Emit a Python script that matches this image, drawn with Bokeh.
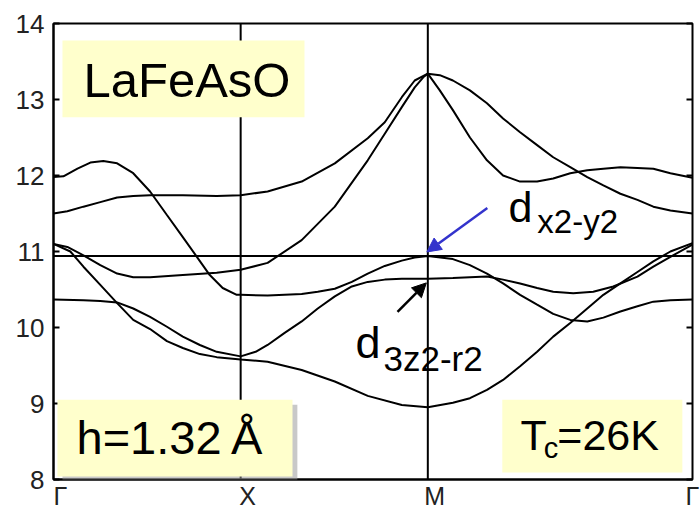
from bokeh.plotting import figure
from bokeh.models import (Range1d, Span, BoxAnnotation, Label, Arrow, NormalHead,
                          LinearAxis, FixedTicker)
from bokeh.embed import file_html
from bokeh.resources import INLINE

# High-symmetry path  Γ - X - M - Γ  (path length in units of Γ-X)
sym_k = [0.0, 1.0, 2.0, 3.4142]
sym_labels = ["Γ", "X", "M", "Γ"]
energy_ticks = [8, 9, 10, 11, 12, 13, 14]
fermi_level = 10.94

# Fe-3d derived bands of LaFeAsO (energy, eV)
band1_k = [0.000, 0.053, 0.128, 0.197, 0.266, 0.340, 0.426, 0.516, 0.606, 0.691, 0.766, 0.835, 0.904, 0.979, 1.000,
           1.144, 1.326, 1.412, 1.503, 1.594, 1.679, 1.770, 1.861, 1.930, 2.000,
           2.134, 2.225, 2.316, 2.402, 2.493, 2.584, 2.670, 2.761, 2.852, 2.938, 3.029, 3.120, 3.205, 3.296, 3.414]
band1_e = [11.98, 11.99, 12.09, 12.17, 12.19, 12.16, 12.03, 11.79, 11.48, 11.19, 10.93, 10.69, 10.52, 10.43, 10.43,
           10.42, 10.44, 10.47, 10.51, 10.60, 10.71, 10.81, 10.88, 10.92, 10.94,
           10.90, 10.82, 10.71, 10.58, 10.43, 10.30, 10.18, 10.10, 10.08, 10.13, 10.21, 10.28, 10.34, 10.36, 10.37]

band2_k = [0.000, 0.074, 0.160, 0.250, 0.340, 0.426, 0.516, 0.691, 0.872, 1.000,
           1.144, 1.326, 1.503, 1.679, 1.770, 1.861, 1.930, 2.000,
           2.064, 2.134, 2.225, 2.316, 2.402, 2.493, 2.584, 2.670, 2.761, 2.852, 2.938, 3.029, 3.120, 3.205, 3.296, 3.414]
band2_e = [11.50, 11.53, 11.59, 11.65, 11.71, 11.73, 11.74, 11.74, 11.73, 11.74,
           11.79, 11.92, 12.16, 12.49, 12.70, 13.03, 13.25, 13.34,
           13.32, 13.25, 13.12, 12.95, 12.75, 12.57, 12.40, 12.24, 12.11, 11.98, 11.87, 11.76, 11.68, 11.59, 11.54, 11.50]

band3_k = [0.000, 0.074, 0.160, 0.250, 0.340, 0.426, 0.516, 0.691, 0.872, 1.000,
           1.144, 1.326, 1.503, 1.679, 1.770, 1.861, 1.930, 1.979, 2.000,
           2.064, 2.134, 2.225, 2.316, 2.402, 2.493, 2.584, 2.670, 2.761, 2.852, 2.938, 3.029, 3.120, 3.205, 3.296, 3.414]
band3_e = [11.10, 11.06, 10.95, 10.82, 10.71, 10.66, 10.66, 10.69, 10.72, 10.76,
           10.85, 11.15, 11.59, 12.20, 12.55, 12.90, 13.16, 13.30, 13.34,
           13.12, 12.86, 12.50, 12.20, 12.00, 11.92, 11.92, 11.96, 12.03, 12.07, 12.09, 12.11, 12.10, 12.09, 12.03, 11.97]

band4_k = [0.000, 0.090, 0.160, 0.250, 0.340, 0.426, 0.516, 0.606, 0.691, 0.782, 0.872, 1.000,
           1.144, 1.326, 1.503, 1.679, 1.861, 2.000,
           2.134, 2.225, 2.316, 2.402, 2.493, 2.584, 2.670, 2.761, 2.852, 2.938, 3.029, 3.120, 3.205, 3.296, 3.414]
band4_e = [11.10, 11.00, 10.80, 10.56, 10.32, 10.10, 9.98, 9.82, 9.73, 9.65, 9.61, 9.58,
           9.55, 9.44, 9.29, 9.10, 8.98, 8.95,
           9.01, 9.07, 9.18, 9.31, 9.49, 9.68, 9.88, 10.06, 10.25, 10.43, 10.58, 10.73, 10.87, 11.00, 11.11]

band5_k = [0.000, 0.160, 0.250, 0.340, 0.426, 0.516, 0.606, 0.691, 0.782, 0.872, 1.000,
           1.080, 1.144, 1.235, 1.326, 1.412, 1.503, 1.594, 1.679, 1.770, 1.861, 2.000,
           2.134, 2.316, 2.402, 2.493, 2.584, 2.670, 2.777, 2.884, 2.991, 3.120, 3.205, 3.296, 3.414]
band5_e = [10.37, 10.36, 10.35, 10.33, 10.25, 10.14, 10.01, 9.88, 9.77, 9.68, 9.62,
           9.68, 9.77, 9.93, 10.08, 10.25, 10.41, 10.54, 10.60, 10.63, 10.64, 10.64,
           10.65, 10.67, 10.63, 10.58, 10.52, 10.47, 10.45, 10.47, 10.54, 10.67, 10.80, 10.93, 11.09]

bands = [(band1_k, band1_e), (band2_k, band2_e), (band3_k, band3_e),
         (band4_k, band4_e), (band5_k, band5_e)]

FONT = "Liberation Sans"

p = figure(width=700, height=512, x_range=Range1d(sym_k[0], sym_k[-1]), y_range=Range1d(8, 14),
           output_backend="svg", toolbar_location=None,
           min_border_left=53, min_border_right=8, min_border_top=23, min_border_bottom=32)
p.background_fill_color = "white"
p.border_fill_color = "white"
p.outline_line_color = "black"
p.outline_line_width = 2
p.xgrid.visible = False
p.ygrid.visible = False

# bottom axis: high-symmetry point names (nudged slightly right of each point,
# the last one stays on the frame edge)
label_shift = 0.037
name_ticks = [k + label_shift for k in sym_k[:-1]] + [sym_k[-1]]
p.xaxis.ticker = FixedTicker(ticks=name_ticks)
p.xaxis.major_label_overrides = {t: lab for t, lab in zip(name_ticks, sym_labels)}
p.xaxis.major_tick_in = 0
p.xaxis.major_tick_out = 0
p.xaxis.minor_tick_line_color = None
p.xaxis.axis_line_color = "black"
p.xaxis.axis_line_width = 2
p.xaxis.major_label_text_font = FONT
p.xaxis.major_label_text_font_size = "25px"
p.xaxis.major_label_text_color = "#222222"
p.xaxis.major_label_standoff = 2

# left axis: energy
p.yaxis.ticker = FixedTicker(ticks=energy_ticks)
p.yaxis.major_tick_in = 6
p.yaxis.major_tick_out = 0
p.yaxis.major_tick_line_width = 2
p.yaxis.minor_tick_line_color = None
p.yaxis.axis_line_color = "black"
p.yaxis.axis_line_width = 2
p.yaxis.major_label_text_font = FONT
p.yaxis.major_label_text_font_size = "26px"
p.yaxis.major_label_text_color = "#222222"
p.yaxis.major_label_standoff = 9

# right axis: tick marks only
right_axis = LinearAxis(ticker=FixedTicker(ticks=energy_ticks),
                        major_label_overrides={t: "" for t in energy_ticks},
                        major_tick_in=6, major_tick_out=0, major_tick_line_width=2,
                        minor_tick_line_color=None, axis_line_color=None,
                        major_label_standoff=0, major_label_text_font_size="1px")
p.add_layout(right_axis, "right")

# band lines
for bk, be in bands:
    p.line(bk, be, line_color="black", line_width=2)

# high-symmetry verticals and Fermi level
for k in sym_k[1:3]:
    p.add_layout(Span(location=k, dimension="height", line_color="black", line_width=2))
p.add_layout(Span(location=fermi_level, dimension="width", line_color="black", line_width=2))

# inset boxes
box_fill = "#FFFFCC"
p.add_layout(BoxAnnotation(left=0.048, right=1.341, top=13.777, bottom=12.766,
                           fill_color=box_fill, fill_alpha=1, line_color=None))
p.add_layout(BoxAnnotation(left=0.048, right=1.303, top=8.985, bottom=7.975,
                           fill_color="#9a9a9a", fill_alpha=0.55, line_color=None))
p.add_layout(BoxAnnotation(left=0.021, right=1.277, top=9.050, bottom=8.040,
                           fill_color=box_fill, fill_alpha=1, line_color=None))
p.add_layout(BoxAnnotation(left=2.398, right=3.360, top=9.050, bottom=8.092,
                           fill_color=box_fill, fill_alpha=1, line_color=None))

def label(x, y, text, size):
    # lift the text so its glyph baseline sits on y
    p.add_layout(Label(x=x, y=y, text=text, text_font=FONT, text_font_size=f"{size}px",
                       y_offset=round(0.36 * size),
                       text_color="black", text_align="left", text_baseline="alphabetic"))

label(0.160, 13.015, "LaFeAsO", 49)
label(0.123, 8.330, "h=1.32\u2009Å", 47)
label(2.495, 8.394, "T", 43)
label(2.620, 8.289, "c", 29)
label(2.692, 8.394, "=26K", 43)

# orbital-character labels with arrows
label(2.431, 11.387, "d", 43)
label(2.585, 11.243, "x2-y2", 33)
label(1.613, 9.589, "d", 45)
label(1.763, 9.418, "3z2-r2", 35)

blue = "#3333CC"
p.add_layout(Arrow(end=NormalHead(size=14, fill_color=blue, line_color=blue),
                   x_start=2.318, y_start=11.571, x_end=1.995, y_end=10.994,
                   line_color=blue, line_width=2.5))
p.add_layout(Arrow(end=NormalHead(size=14, fill_color="black", line_color="black"),
                   x_start=1.838, y_start=10.206, x_end=1.992, y_end=10.587,
                   line_color="black", line_width=2.5))

open("out.html", "w").write(file_html(p, INLINE))
